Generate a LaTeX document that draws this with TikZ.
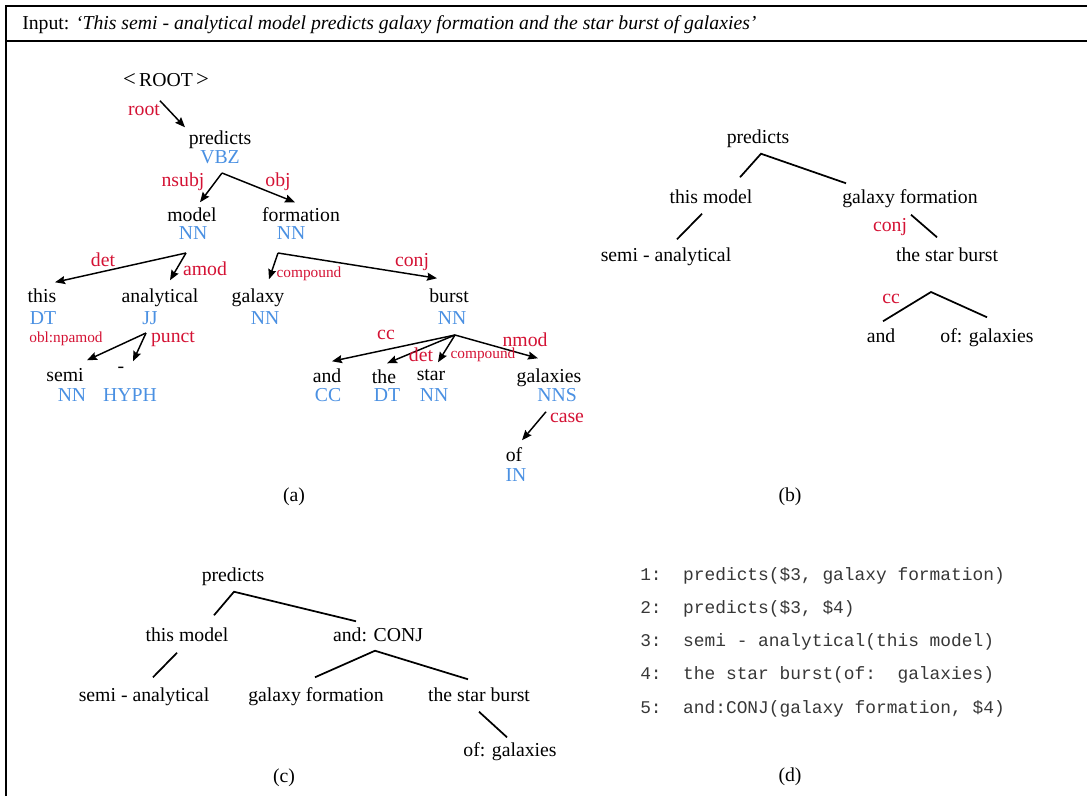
\documentclass[tikz,border=0pt]{standalone}
\usepackage{fontspec}
\setmainfont{Liberation Serif}
\setmonofont{Liberation Mono}
\usetikzlibrary{arrows.meta}
\definecolor{deprel}{RGB}{212,18,52}
\definecolor{postag}{RGB}{74,144,226}
\definecolor{listing}{RGB}{55,55,55}
\newcommand\mainsz{\fontsize{14.8}{17}\selectfont}
\newcommand\smallsz{\fontsize{11.5}{13}\selectfont}
\newcommand\monosz{\fontsize{13.4}{16}\selectfont}

\begin{document}
\begin{tikzpicture}[x=0.75pt,y=-0.75pt,
  word/.style={font=\mainsz, text height=10.4pt, text depth=3.7pt, inner xsep=1pt, inner ysep=3.8pt},
  tag/.style={word, text=postag},
  rel/.style={font=\mainsz, text=deprel, inner sep=0pt},
  relsm/.style={font=\smallsz, text=deprel, inner sep=0pt},
  arr/.style={line width=1.1pt, -{Stealth[length=7.5pt,width=6pt,inset=1pt]}},
  treeline/.style={line width=1.3pt},
  panelcap/.style={font=\mainsz, inner sep=0pt},
  listline/.style={font=\ttfamily\monosz, text=listing, anchor=west, inner sep=0pt},
  frame/.style={line width=1pt}]
\useasboundingbox (0,0) rectangle (1087,796);

% outer frame and title row
\draw[frame] (6,796) -- (6,6) -- (1087,6);
\draw[frame] (6,41) -- (1087,41);
\node[font=\mainsz, anchor=west, inner sep=0pt] (title) at (22,25)
  {Input: \textit{‘This semi - analytical model predicts galaxy formation and the star burst of galaxies’}};

% ---------------- (a) dependency parse ----------------
\node[word] (root) at (166,82) {{\fontsize{17}{17}\selectfont<}\,ROOT\,{\fontsize{17}{17}\selectfont>}};
\node[word] (pred) at (220,140) {predicts};
\node[tag] (t-pred) at (220,159) {VBZ};
\node[word] (model) at (192,217) {model};
\node[tag] (t-model) at (193,235) {NN};
\node[word] (form) at (301,217) {formation};
\node[tag] (t-form) at (291,235) {NN};
\node[word] (this) at (42,298) {this};
\node[tag] (t-this) at (43,320) {DT};
\node[word] (anal) at (160,298) {analytical};
\node[tag] (t-anal) at (150,320) {JJ};
\node[word] (gal) at (258,298) {galaxy};
\node[tag] (t-gal) at (265,320) {NN};
\node[word] (burst) at (449,298) {burst};
\node[tag] (t-burst) at (452,320) {NN};
\node[word] (semi) at (65,377) {semi};
\node[tag] (t-semi) at (72,397) {NN};
\node[word] (hyph) at (121,368) {-};
\node[tag] (t-hyph) at (130,397) {HYPH};
\node[word] (and) at (327,378) {and};
\node[tag] (t-and) at (328,397) {CC};
\node[word] (the) at (384,379) {the};
\node[tag] (t-the) at (387,397) {DT};
\node[word] (star) at (431,376) {star};
\node[tag] (t-star) at (434,397) {NN};
\node[word] (gals) at (549,378) {galaxies};
\node[tag] (t-gals) at (557,397) {NNS};
\node[word] (of) at (514,457) {of};
\node[tag] (t-of) at (516,477) {IN};

% branching points below the heads
\coordinate (ap-pred) at (222,173);
\coordinate (ap-model) at (186,253);
\coordinate (ap-form) at (278,253);
\coordinate (ap-anal) at (146,333);
\coordinate (ap-burst) at (455,335);

\draw[arr] ([shift={(-6,4)}]root.south) -- ([shift={(-35,2)}]pred.north);
\draw[arr] (ap-pred) -- ([shift={(8,0)}]model.north);
\draw[arr] (ap-pred) -- ([shift={(-6,0)}]form.north);
\draw[arr] (ap-model) -- ([shift={(13,-1)}]this.north);
\draw[arr] (ap-model) -- ([shift={(10,-3)}]anal.north);
\draw[arr] (ap-form) -- ([shift={(11,-4)}]gal.north);
\draw[arr] (ap-form) -- ([shift={(-12,-5)}]burst.north);
\draw[arr] (ap-anal) -- ([shift={(22,-2)}]semi.north);
\draw[arr] (ap-anal) -- ([shift={(12,8)}]hyph.north);
\draw[arr] (ap-burst) -- ([shift={(5,-2)}]and.north);
\draw[arr] (ap-burst) -- ([shift={(3,-1)}]the.north);
\draw[arr] (ap-burst) -- ([shift={(7,1)}]star.north);
\draw[arr] (ap-burst) -- ([shift={(-11,-5)}]gals.north);
\draw[arr] ([shift={(-11,0)}]t-gals.south) -- ([shift={(8,-2)}]of.north);

% relation labels
\node[rel] (l-root) at (144,110) {root};
\node[rel] (l-nsubj) at (183,182) {nsubj};
\node[rel] (l-obj) at (278,182) {obj};
\node[rel] (l-det1) at (103,260) {det};
\node[rel] (l-amod) at (205,269) {amod};
\node[relsm] (l-comp1) at (309,274) {compound};
\node[rel] (l-conj) at (412,262) {conj};
\node[relsm] (l-obl) at (66,339) {obl:npamod};
\node[rel] (l-punct) at (173,339) {punct};
\node[rel] (l-cc) at (386,335) {cc};
\node[rel] (l-det2) at (421,355) {det};
\node[relsm] (l-comp2) at (483,355) {compound};
\node[rel] (l-nmod) at (525,340) {nmod};
\node[rel] (l-case) at (567,418) {case};
\node[panelcap] (cap-a) at (294,497) {(a)};

% ---------------- (b) phrase tree ----------------
\node[word] (b-pred) at (758,139) {predicts};
\node[word] (b-model) at (711,199) {this model};
\node[word] (b-form) at (910,199) {galaxy formation};
\node[word] (b-semi) at (666,257) {semi - analytical};
\node[word] (b-burst) at (947,257) {the star burst};
\node[word] (b-and) at (881,338) {and};
\node[word] (b-of) at (987,338) {of: galaxies};
\coordinate (b-ap) at (931,292);
\draw[treeline] ([shift={(29,-7)}]b-model.north) -- ([shift={(3,0)}]b-pred.south) -- ([shift={(-64,-1)}]b-form.north);
\draw[treeline] ([shift={(-9,0)}]b-model.south) -- ([shift={(11,-3)}]b-semi.north);
\draw[treeline] ([shift={(1,1)}]b-form.south) -- ([shift={(-10,-5)}]b-burst.north);
\draw[treeline] ([shift={(2,-2)}]b-and.north) -- (b-ap) -- ([shift={(0,-6)}]b-of.north);
\node[rel] (b-conj) at (890,227) {conj};
\node[rel] (b-cc) at (891,299) {cc};
\node[panelcap] (cap-b) at (790,497) {(b)};

% ---------------- (c) tree with conjunction node ----------------
\node[word] (c-pred) at (233,577) {predicts};
\node[word] (c-model) at (187,637) {this model};
\node[word] (c-conj) at (378,637) {and: CONJ};
\node[word] (c-semi) at (144,697) {semi - analytical};
\node[word] (c-form) at (316,697) {galaxy formation};
\node[word] (c-burst) at (479,697) {the star burst};
\node[word] (c-of) at (510,752) {of: galaxies};
\draw[treeline] ([shift={(27,-7)}]c-model.north) -- ([shift={(1,0)}]c-pred.south) -- ([shift={(-22,-1)}]c-conj.north);
\draw[treeline] ([shift={(-10,1)}]c-model.south) -- ([shift={(9,-5)}]c-semi.north);
\draw[treeline] ([shift={(-1,-5)}]c-form.north) -- ([shift={(-3,-1)}]c-conj.south) -- ([shift={(-11,-3)}]c-burst.north);
\draw[treeline] (c-burst.south) -- ([shift={(-3,0)}]c-of.north);
\node[panelcap] (cap-c) at (284,778) {(c)};

% ---------------- (d) predicate list ----------------
\node[listline] (d1) at (640,576) {1:\ \ predicts(\$3, galaxy formation)};
\node[listline] (d2) at (640,609) {2:\ \ predicts(\$3, \$4)};
\node[listline] (d3) at (640,642) {3:\ \ semi - analytical(this model)};
\node[listline] (d4) at (640,675) {4:\ \ the star burst(of:\ \ galaxies)};
\node[listline] (d5) at (640,709) {5:\ \ and:CONJ(galaxy formation, \$4)};
\node[panelcap] (cap-d) at (790,777) {(d)};
\end{tikzpicture}
\end{document}
